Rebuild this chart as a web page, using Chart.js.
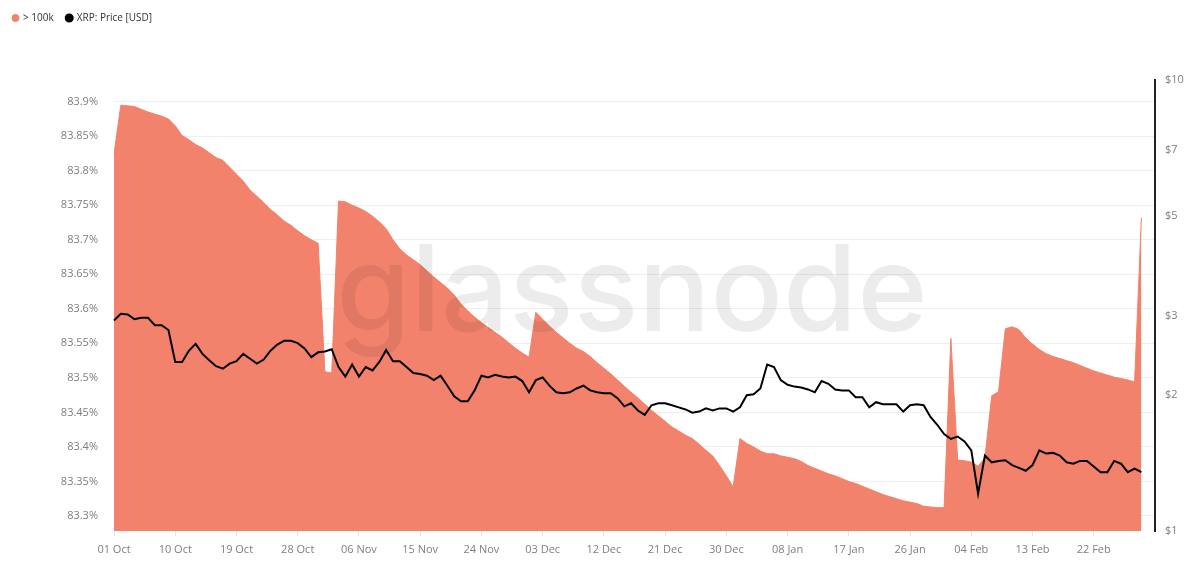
<!DOCTYPE html>
<html>
<head>
<meta charset="utf-8">
<script src="https://cdn.jsdelivr.net/npm/chart.js@4/dist/chart.umd.min.js"></script>
<style>
  html, body { margin: 0; padding: 0; background: #ffffff; }
  #wrap { width: 1200px; height: 570px; position: relative; }
</style>
</head>
<body>
<div id="wrap"><canvas id="c"></canvas></div>
<script>
// ---- Data (daily, 01 Oct 2025 .. 01 Mar 2026) ----
const startDate = [2025, 9, 1];
const dayCount = 154; // category slots on the axis (data covers first 152)
const monthNames = ['Jan','Feb','Mar','Apr','May','Jun','Jul','Aug','Sep','Oct','Nov','Dec'];

const supplyShare = [ // "> 100k" (%)
  83.824, 83.895, 83.894, 83.893, 83.889, 83.885, 83.882, 83.879, 83.875, 83.865,
  83.851, 83.845, 83.838, 83.833, 83.826, 83.819, 83.815, 83.805, 83.795, 83.785,
  83.772, 83.763, 83.754, 83.744, 83.736, 83.727, 83.721, 83.713, 83.706, 83.700,
  83.695, 83.509, 83.507, 83.756, 83.755, 83.750, 83.746, 83.741, 83.734, 83.726,
  83.716, 83.700, 83.687, 83.678, 83.671, 83.664, 83.655, 83.646, 83.638, 83.630,
  83.620, 83.607, 83.597, 83.588, 83.580, 83.573, 83.566, 83.559, 83.551, 83.543,
  83.536, 83.530, 83.595, 83.585, 83.575, 83.566, 83.558, 83.550, 83.543, 83.538,
  83.531, 83.522, 83.514, 83.506, 83.497, 83.488, 83.479, 83.471, 83.462, 83.453,
  83.445, 83.437, 83.429, 83.423, 83.417, 83.412, 83.404, 83.395, 83.387, 83.373,
  83.358, 83.342, 83.412, 83.405, 83.400, 83.394, 83.390, 83.390, 83.387, 83.385,
  83.383, 83.379, 83.373, 83.369, 83.365, 83.361, 83.358, 83.354, 83.350, 83.347,
  83.343, 83.339, 83.335, 83.331, 83.328, 83.325, 83.322, 83.320, 83.318, 83.314,
  83.313, 83.312, 83.312, 83.557, 83.381, 83.380, 83.378, 83.372, 83.384, 83.474,
  83.480, 83.571, 83.574, 83.570, 83.558, 83.549, 83.541, 83.535, 83.531, 83.528,
  83.525, 83.522, 83.518, 83.514, 83.510, 83.507, 83.504, 83.501, 83.499, 83.497,
  83.494, 83.732
];

const xrpPrice = [ // XRP: Price [USD]
  2.93, 3.03, 3.02, 2.95, 2.97, 2.97, 2.86, 2.86, 2.79, 2.37,
  2.37, 2.51, 2.60, 2.47, 2.39, 2.32, 2.29, 2.35, 2.38, 2.47,
  2.41, 2.35, 2.40, 2.51, 2.59, 2.64, 2.64, 2.61, 2.54, 2.43,
  2.49, 2.50, 2.53, 2.31, 2.20, 2.34, 2.20, 2.31, 2.27, 2.37,
  2.52, 2.38, 2.38, 2.31, 2.24, 2.23, 2.21, 2.16, 2.21, 2.10,
  1.99, 1.94, 1.94, 2.05, 2.21, 2.19, 2.22, 2.20, 2.19, 2.20,
  2.15, 2.03, 2.16, 2.19, 2.10, 2.03, 2.02, 2.03, 2.07, 2.10,
  2.05, 2.03, 2.02, 2.02, 1.97, 1.89, 1.92, 1.85, 1.81, 1.90,
  1.92, 1.92, 1.90, 1.88, 1.86, 1.83, 1.84, 1.87, 1.85, 1.87,
  1.87, 1.84, 1.88, 2.00, 2.01, 2.07, 2.34, 2.31, 2.16, 2.11,
  2.09, 2.08, 2.06, 2.03, 2.15, 2.12, 2.06, 2.05, 2.05, 1.98,
  1.98, 1.88, 1.93, 1.91, 1.91, 1.91, 1.84, 1.90, 1.91, 1.90,
  1.79, 1.72, 1.64, 1.60, 1.62, 1.58, 1.51, 1.21, 1.47, 1.42,
  1.43, 1.435, 1.40, 1.38, 1.36, 1.40, 1.51, 1.485, 1.49, 1.47,
  1.42, 1.41, 1.43, 1.43, 1.39, 1.35, 1.35, 1.43, 1.41, 1.35,
  1.375, 1.35
];

const xTickLabels = ['01 Oct','10 Oct','19 Oct','28 Oct','06 Nov','15 Nov','24 Nov','03 Dec','12 Dec',
  '21 Dec','30 Dec','08 Jan','17 Jan','26 Jan','04 Feb','13 Feb','22 Feb'];
const leftTicks = [83.3, 83.35, 83.4, 83.45, 83.5, 83.55, 83.6, 83.65, 83.7, 83.75, 83.8, 83.85, 83.9];
const rightTicks = [1, 2, 3, 5, 7, 10];

const seriesNames = ['> 100k', 'XRP: Price [USD]'];

// ---- category labels (one per day) ----
const categories = [];
for (let i = 0; i < dayCount; i++) {
  const d = new Date(Date.UTC(startDate[0], startDate[1], startDate[2] + i));
  const dd = String(d.getUTCDate()).padStart(2, '0');
  categories.push(dd + ' ' + monthNames[d.getUTCMonth()]);
}

const AREA = 'rgb(242,130,108)';
const TICK = '#7f7f7f';
const FONT = "'Open Sans', 'Noto Sans', sans-serif";

const watermark = {
  id: 'watermark',
  afterDatasetDraw(chart, args) {
    if (args.index !== 0) return;
    const ctx = chart.ctx;
    ctx.save();
    ctx.font = "500 120px Inter, 'Open Sans', sans-serif";
    ctx.fillStyle = 'rgba(0,0,0,0.075)';
    ctx.textAlign = 'center';
    ctx.textBaseline = 'alphabetic';
    ctx.fillText('glassnode', 632, 331);
    ctx.restore();
  }
};

const legendSpace = {
  id: 'legendSpace',
  beforeInit(chart) {
    const origFit = chart.legend.fit;
    chart.legend.fit = function () {
      origFit.bind(chart.legend)();
      this.height += 47;
    };
  }
};

new Chart(document.getElementById('c'), {
  type: 'line',
  data: {
    labels: categories,
    datasets: [
      {
        label: seriesNames[0],
        data: supplyShare,
        yAxisID: 'y',
        backgroundColor: AREA,
        borderColor: AREA,
        borderWidth: 1,
        fill: 'start',
        pointRadius: 0,
        tension: 0,
        order: 1
      },
      {
        label: seriesNames[1],
        data: xrpPrice,
        yAxisID: 'y1',
        backgroundColor: '#000000',
        borderColor: '#000000',
        borderWidth: 2,
        fill: false,
        pointRadius: 0,
        tension: 0,
        order: 0
      }
    ]
  },
  options: {
    responsive: true,
    maintainAspectRatio: false,
    animation: false,
    layout: { padding: { top: 0, left: 0, right: 0, bottom: 0 } },
    plugins: {
      legend: {
        position: 'top',
        align: 'start',
        labels: {
          usePointStyle: true,
          pointStyle: 'circle',
          boxWidth: 5,
          boxHeight: 5,
          padding: 13,
          color: '#333333',
          font: { family: FONT, size: 10 },
          sort: (a, b) => a.datasetIndex - b.datasetIndex
        }
      },
      tooltip: { enabled: false }
    },
    scales: {
      x: {
        type: 'category',
        offset: false,
        afterFit(scale) { scale.height = 39; },
        grid: { display: true, drawOnChartArea: false, drawTicks: true, tickLength: 5, color: '#e3e3e3' },
        border: { display: false },
        ticks: {
          autoSkip: false,
          maxRotation: 0,
          minRotation: 0,
          padding: 7,
          color: TICK,
          font: { family: FONT, size: 11 },
          callback: function (value) {
            const l = this.getLabelForValue(value);
            return xTickLabels.includes(l) ? l : null;
          }
        }
      },
      y: {
        type: 'linear',
        position: 'left',
        min: 83.2782,
        max: 83.9314,
        afterFit(scale) { scale.width = 114; },
        afterBuildTicks(scale) { scale.ticks = leftTicks.map(v => ({ value: v })); },
        grid: { color: '#efefef', drawTicks: false },
        border: { display: false },
        ticks: {
          padding: 16,
          color: TICK,
          font: { family: FONT, size: 11 },
          callback: (v) => parseFloat(Number(v).toFixed(2)) + '%'
        }
      },
      y1: {
        type: 'logarithmic',
        position: 'right',
        min: 1,
        max: 10,
        afterFit(scale) { scale.width = 45; },
        afterBuildTicks(scale) { scale.ticks = rightTicks.map(v => ({ value: v })); },
        grid: { drawOnChartArea: false, drawTicks: false },
        border: { display: true, color: '#222222', width: 2 },
        ticks: {
          padding: 10,
          color: TICK,
          font: { family: FONT, size: 11 },
          callback: (v) => '$' + v
        }
      }
    }
  },
  plugins: [watermark, legendSpace]
});
</script>
</body>
</html>
